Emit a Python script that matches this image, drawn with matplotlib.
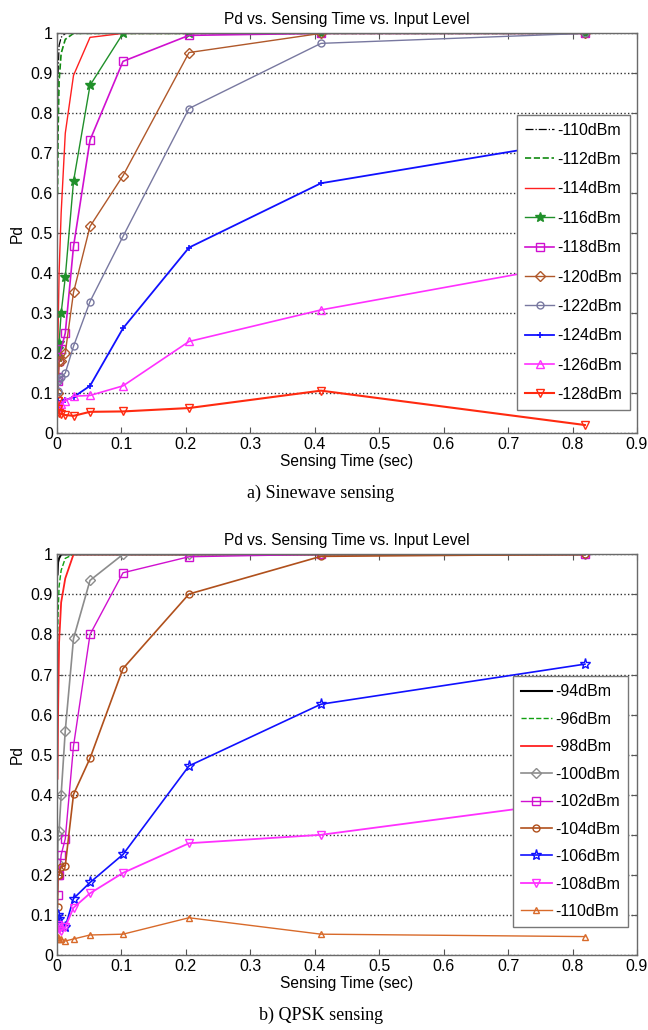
import matplotlib
matplotlib.use("Agg")
import matplotlib.pyplot as plt

plt.rcParams['font.family'] = ['Liberation Sans', 'DejaVu Sans']

# Sensing time (sec)
sensing_time = [0.0008, 0.0016, 0.0032, 0.0064, 0.0128, 0.0256, 0.0512, 0.1024, 0.2048, 0.4096, 0.8192]

# a) Sinewave sensing
sine_labels = ['-110dBm', '-112dBm', '-114dBm', '-116dBm', '-118dBm',
               '-120dBm', '-122dBm', '-124dBm', '-126dBm', '-128dBm']
sine_110 = [0.80, 0.90, 0.97, 0.99, 1.00, 1.00, 1.00, 1.00, 1.00, 1.00, 1.00]
sine_112 = [0.60, 0.75, 0.88, 0.95, 0.985, 1.00, 1.00, 1.00, 1.00, 1.00, 1.00]
sine_114 = [0.20, 0.25, 0.40, 0.55, 0.75, 0.895, 0.99, 1.00, 1.00, 1.00, 1.00]
sine_116 = [0.19, 0.21, 0.225, 0.30, 0.39, 0.63, 0.87, 1.00, 1.00, 1.00, 1.00]
sine_118 = [0.13, 0.14, 0.18, 0.21, 0.25, 0.467, 0.733, 0.93, 0.995, 1.00, 1.00]
sine_120 = [0.085, 0.10, 0.18, 0.18, 0.20, 0.352, 0.517, 0.644, 0.952, 1.00, 1.00]
sine_122 = [0.105, 0.13, 0.135, 0.14, 0.15, 0.217, 0.329, 0.492, 0.812, 0.975, 1.00]
sine_124 = [0.08, 0.075, 0.07, 0.075, 0.082, 0.09, 0.118, 0.262, 0.464, 0.625, 0.735]
sine_126 = [0.07, 0.065, 0.07, 0.072, 0.08, 0.092, 0.094, 0.118, 0.229, 0.308, 0.428]
sine_128 = [0.079, 0.06, 0.05, 0.048, 0.045, 0.043, 0.053, 0.054, 0.0625, 0.106, 0.02]

# b) QPSK sensing
qpsk_labels = ['-94dBm', '-96dBm', '-98dBm', '-100dBm', '-102dBm',
               '-104dBm', '-106dBm', '-108dBm', '-110dBm']
qpsk_94 = [0.95, 0.98, 0.99, 1.00, 1.00, 1.00, 1.00, 1.00, 1.00, 1.00, 1.00]
qpsk_96 = [0.77, 0.85, 0.92, 0.96, 0.99, 1.00, 1.00, 1.00, 1.00, 1.00, 1.00]
qpsk_98 = [0.44, 0.60, 0.78, 0.88, 0.94, 1.00, 1.00, 1.00, 1.00, 1.00, 1.00]
qpsk_100 = [0.23, 0.30, 0.31, 0.40, 0.56, 0.79, 0.935, 1.00, 1.00, 1.00, 1.00]
qpsk_102 = [0.15, 0.20, 0.20, 0.25, 0.29, 0.522, 0.80, 0.954, 0.994, 1.00, 1.00]
qpsk_104 = [0.12, 0.20, 0.20, 0.22, 0.223, 0.401, 0.491, 0.715, 0.901, 0.995, 1.00]
qpsk_106 = [0.075, 0.10, 0.09, 0.075, 0.07, 0.141, 0.181, 0.251, 0.472, 0.626, 0.726]
qpsk_108 = [0.075, 0.07, 0.065, 0.06, 0.07, 0.118, 0.154, 0.205, 0.279, 0.30, 0.387]
qpsk_110 = [0.04, 0.045, 0.04, 0.04, 0.035, 0.04, 0.05, 0.052, 0.093, 0.052, 0.046]

x_ticks = [0, 0.1, 0.2, 0.3, 0.4, 0.5, 0.6, 0.7, 0.8, 0.9]
x_ticklabels = ['0', '0.1', '0.2', '0.3', '0.4', '0.5', '0.6', '0.7', '0.8', '0.9']
y_ticks = [0, 0.1, 0.2, 0.3, 0.4, 0.5, 0.6, 0.7, 0.8, 0.9, 1.0]
y_ticklabels = ['0', '0.1', '0.2', '0.3', '0.4', '0.5', '0.6', '0.7', '0.8', '0.9', '1']

sine_series = [sine_110, sine_112, sine_114, sine_116, sine_118,
               sine_120, sine_122, sine_124, sine_126, sine_128]
sine_styles = [
    dict(color='black', ls='-.', lw=0.9),
    dict(color='#108a10', ls='--', lw=1.2),
    dict(color='#ff2020', ls='-', lw=1.0),
    dict(color='#20902a', ls='-', lw=1.0, marker='*', ms=7, mfc='#20902a'),
    dict(color='#d010d0', ls='-', lw=1.2, marker='s', ms=6, mfc='none'),
    dict(color='#b0582a', ls='-', lw=1.0, marker='D', ms=5, mfc='none'),
    dict(color='#7878a0', ls='-', lw=1.0, marker='o', ms=5, mfc='none'),
    dict(color='#1010ff', ls='-', lw=1.3, marker='+', ms=5, mew=1.2),
    dict(color='#ff30ff', ls='-', lw=1.2, marker='^', ms=6, mfc='none'),
    dict(color='#ff2a10', ls='-', lw=1.5, marker='v', ms=6, mfc='none'),
]

qpsk_series = [qpsk_94, qpsk_96, qpsk_98, qpsk_100, qpsk_102,
               qpsk_104, qpsk_106, qpsk_108, qpsk_110]
qpsk_styles = [
    dict(color='black', ls='-', lw=1.5),
    dict(color='#10a010', ls='--', lw=1.0),
    dict(color='#ff2020', ls='-', lw=1.3),
    dict(color='#8c8c8c', ls='-', lw=1.2, marker='D', ms=5, mfc='none'),
    dict(color='#d010d0', ls='-', lw=1.0, marker='s', ms=6, mfc='none'),
    dict(color='#b0501c', ls='-', lw=1.2, marker='o', ms=5, mfc='none'),
    dict(color='#1010ff', ls='-', lw=1.2, marker='*', ms=8, mfc='none', mew=1.0),
    dict(color='#ff30ff', ls='-', lw=1.3, marker='v', ms=6, mfc='none'),
    dict(color='#d86a2a', ls='-', lw=1.0, marker='^', ms=5, mfc='none'),
]

fig = plt.figure(figsize=(6.48, 10.30), dpi=100)
ax1 = fig.add_axes([0.088, 0.5796, 0.895, 0.388])
ax2 = fig.add_axes([0.088, 0.0728, 0.895, 0.389])


def style_axes(ax):
    ax.set_xlim(0, 0.9)
    ax.set_ylim(0, 1)
    ax.set_xticks(x_ticks)
    ax.set_xticklabels(x_ticklabels)
    ax.set_yticks(y_ticks)
    ax.set_yticklabels(y_ticklabels)
    ax.tick_params(direction='in', top=True, right=True, labelsize=11.5,
                   length=4, color='#555555', pad=3)
    for s in ax.spines.values():
        s.set_color('#6a6a6a')
        s.set_linewidth(1.0)
    ax.yaxis.grid(True, ls=':', color='#333333', lw=1.0)
    ax.set_axisbelow(True)
    ax.set_title('Pd vs. Sensing Time vs. Input Level', fontsize=11.2, pad=7)
    ax.set_xlabel('Sensing Time (sec)', fontsize=11.2, labelpad=1)
    ax.set_ylabel('Pd', fontsize=11.2, labelpad=4)


for ys, lab, st in zip(sine_series, sine_labels, sine_styles):
    ax1.plot(sensing_time, ys, label=lab, **st)
for ys, lab, st in zip(qpsk_series, qpsk_labels, qpsk_styles):
    ax2.plot(sensing_time, ys, label=lab, **st)

style_axes(ax1)
style_axes(ax2)

leg1 = ax1.legend(loc='lower right', bbox_to_anchor=(0.988, 0.0575), fontsize=11.5,
                  numpoints=1, labelspacing=0.9, handlelength=1.8, handletextpad=0.2,
                  borderpad=0.5, borderaxespad=0, fancybox=False, framealpha=1,
                  edgecolor='#777777')
leg2 = ax2.legend(loc='lower right', bbox_to_anchor=(0.984, 0.07), fontsize=11.5,
                  numpoints=1, labelspacing=0.78, handlelength=1.9, handletextpad=0.2,
                  borderpad=0.5, borderaxespad=0, fancybox=False, framealpha=1,
                  edgecolor='#777777')
for leg in (leg1, leg2):
    leg.get_frame().set_linewidth(1.0)

fig.text(0.495, 1 - 493 / 1030, 'a) Sinewave sensing', ha='center', va='center',
         fontsize=13, family=['Liberation Serif', 'DejaVu Serif'])
fig.text(0.495, 1 - 1015 / 1030, 'b) QPSK sensing', ha='center', va='center',
         fontsize=13, family=['Liberation Serif', 'DejaVu Serif'])

fig.savefig('out.png', dpi=100)
